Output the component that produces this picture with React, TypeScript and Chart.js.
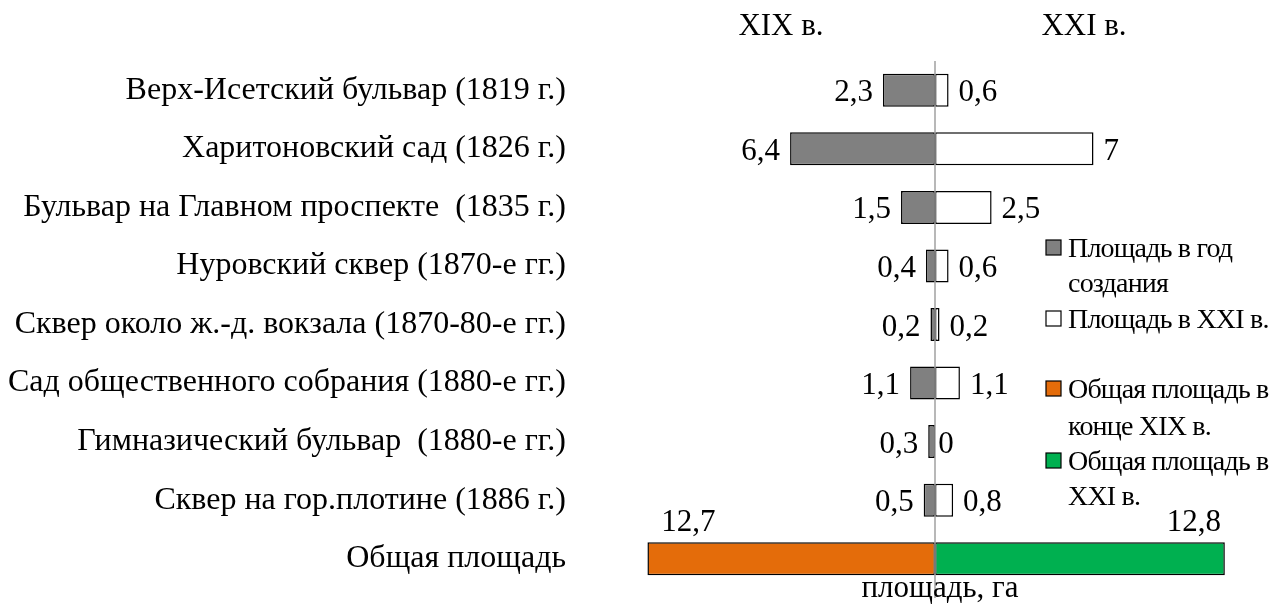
import React, { useEffect, useRef } from "react";
import { Chart, registerables } from "chart.js";

Chart.register(...registerables);

const categories = [
  "Верх-Исетский бульвар (1819 г.)",
  "Харитоновский сад (1826 г.)",
  "Бульвар на Главном проспекте  (1835 г.)",
  "Нуровский сквер (1870-е гг.)",
  "Сквер около ж.-д. вокзала (1870-80-е гг.)",
  "Сад общественного собрания (1880-е гг.)",
  "Гимназический бульвар  (1880-е гг.)",
  "Сквер на гор.плотине (1886 г.)",
  "Общая площадь",
];

const areaCreated: (number | null)[] = [2.3, 6.4, 1.5, 0.4, 0.2, 1.1, 0.3, 0.5, null];
const area21: (number | null)[] = [0.6, 7, 2.5, 0.6, 0.2, 1.1, 0, 0.8, null];
const totalEnd19: (number | null)[] = [null, null, null, null, null, null, null, null, 12.7];
const total21: (number | null)[] = [null, null, null, null, null, null, null, null, 12.8];

const seriesLabels = [
  "Площадь в год создания",
  "Площадь в XXI в.",
  "Общая площадь в конце XIX в.",
  "Общая площадь в XXI в.",
];
const legendLines = [
  ["Площадь в год", "создания"],
  ["Площадь в XXI в."],
  ["Общая площадь в", "конце XIX в."],
  ["Общая площадь в", "XXI в."],
];
const headerLeft = "XIX в.";
const headerRight = "XXI в.";
const axisTitle = "площадь, га";

const colors = ["#808080", "#FFFFFF", "#E46C0A", "#00B050"];
const FONT = "'Liberation Serif', 'Times New Roman', serif";

const fmt = (v: number) => String(v).replace(".", ",");

const overlay = {
  id: "overlay",
  afterDatasetsDraw(chart: any) {
    const ctx: CanvasRenderingContext2D = chart.ctx;
    const xs = chart.scales.x;
    const area = chart.chartArea;
    const x0 = xs.getPixelForValue(0);
    ctx.save();
    // zero line
    ctx.strokeStyle = "#A0A0A0";
    ctx.lineWidth = 1.5;
    ctx.beginPath();
    ctx.moveTo(x0, area.top);
    ctx.lineTo(x0, 598);
    ctx.stroke();

    // data labels
    const raw = [areaCreated, area21, totalEnd19, total21];
    ctx.fillStyle = "#000";
    ctx.font = `31px ${FONT}`;
    ctx.textBaseline = "alphabetic";
    chart.data.datasets.forEach((_ds: any, di: number) => {
      const meta = chart.getDatasetMeta(di);
      meta.data.forEach((bar: any, i: number) => {
        const v = raw[di][i];
        if (v == null) return;
        const t = fmt(v);
        if (di === 0) {
          ctx.textAlign = "right";
          ctx.fillText(t, bar.x - 10, bar.y + 11);
        } else if (di === 1) {
          ctx.textAlign = "left";
          ctx.fillText(t, bar.x + 10, bar.y + 11);
        } else if (di === 2) {
          ctx.textAlign = "center";
          ctx.fillText(t, bar.x + 41, bar.y - 27.5);
        } else {
          ctx.textAlign = "center";
          ctx.fillText(t, bar.x - 31, bar.y - 27.5);
        }
      });
    });

    // headers
    ctx.font = `31px ${FONT}`;
    ctx.textAlign = "center";
    ctx.fillText(headerLeft, x0 - 154, 35);
    ctx.fillText(headerRight, x0 + 149, 35);

    // axis title
    ctx.font = `31px ${FONT}`;
    ctx.fillText(axisTitle, x0 + 5, 597);

    // legend
    const baselines = [[257, 292], [328], [398, 435], [470, 505]];
    ctx.font = `28px ${FONT}`;
    (ctx as any).letterSpacing = "-0.8px";
    ctx.textAlign = "left";
    legendLines.forEach((lines, li) => {
      const bl = baselines[li];
      const sqTop = bl[0] - 17;
      ctx.fillStyle = colors[li];
      ctx.fillRect(1046, sqTop, 15, 15);
      ctx.strokeStyle = "#000";
      ctx.lineWidth = 1.2;
      ctx.strokeRect(1046, sqTop, 15, 15);
      ctx.fillStyle = "#000";
      lines.forEach((ln, k) => ctx.fillText(ln, 1068, bl[k]));
    });
    (ctx as any).letterSpacing = "0px";
    ctx.restore();
  },
};

export default function App() {
  const ref = useRef<HTMLCanvasElement>(null);
  useEffect(() => {
    document.body.style.margin = "0";
    const neg = (a: (number | null)[]) => a.map((v) => (v == null ? null : -v));
    const mk = (label: string, data: (number | null)[], color: string) => ({
      label,
      data,
      backgroundColor: color,
      borderColor: "#000",
      borderWidth: 1.5,
      borderSkipped: false as const,
      categoryPercentage: 1,
      barPercentage: 0.564,
    });
    const chart = new Chart(ref.current!, {
      type: "bar",
      data: {
        labels: categories,
        datasets: [
          mk(seriesLabels[0], neg(areaCreated), colors[0]),
          mk(seriesLabels[1], area21, colors[1]),
          mk(seriesLabels[2], neg(totalEnd19), colors[2]),
          mk(seriesLabels[3], total21, colors[3]),
        ],
      },
      options: {
        indexAxis: "y",
        responsive: false,
        animation: false,
        layout: { padding: { top: 61, bottom: 16, left: 0, right: 33 } },
        plugins: { legend: { display: false }, tooltip: { enabled: false } },
        scales: {
          x: { display: false, stacked: true, min: -14, max: 14 },
          y: {
            stacked: true,
            grid: { display: false, drawTicks: false },
            border: { display: false },
            ticks: {
              autoSkip: false,
              color: "#000",
              padding: 52,
              font: { family: FONT, size: 32 },
            },
            afterFit: (s: any) => {
              s.width = 618;
              s.paddingTop = 0;
              s.paddingBottom = 0;
            },
          },
        },
      },
      plugins: [overlay],
    });
    return () => chart.destroy();
  }, []);
  return (
    <div style={{ width: 1285, height: 604 }}>
      <canvas ref={ref} width={1285} height={604} />
    </div>
  );
}
